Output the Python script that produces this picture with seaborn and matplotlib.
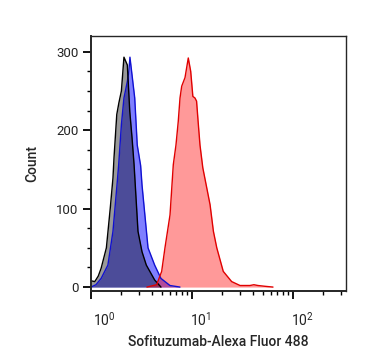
import numpy as np
import pandas as pd
import matplotlib
matplotlib.use("Agg")
import matplotlib.pyplot as plt
import matplotlib.transforms as mtransforms
import seaborn as sns
from matplotlib.ticker import LogLocator, MultipleLocator, FixedLocator

# ---- data (fluorescence intensity, count) ----
gray_x = [1.0, 1.09, 1.18, 1.26, 1.42, 1.55, 1.65, 1.69, 1.80, 1.89, 2.0, 2.12, 2.29, 2.42, 2.55, 2.67, 2.92, 3.2, 3.53, 4.27, 4.93]
gray_y = [8, 7, 14, 24, 50, 100, 139, 165, 220, 235, 250, 293, 283, 224, 190, 156, 71, 45, 28, 9, 0]

blue_x = [1.0, 1.12, 1.26, 1.47, 1.65, 1.82, 1.88, 2.0, 2.12, 2.29, 2.37, 2.43, 2.55, 2.71, 2.87, 3.1, 3.2, 3.67, 4.27, 4.93, 6.05, 7.6]
blue_y = [0, 3, 11, 28, 71, 134, 156, 207, 241, 262, 275, 293, 270, 241, 181, 155, 130, 50, 28, 11, 2, 0]

red_x = [3.58, 4.47, 5.01, 5.40, 6.06, 6.53, 6.94, 7.31, 7.61, 7.91, 8.53, 9.19, 9.71, 10.2, 10.7, 11.1, 11.5, 12.0, 12.8, 15.1, 16.3, 17.6, 20.4, 24.7, 29.9, 37.5, 41.0, 45.0, 52.8, 63.4]
red_y = [0, 3, 20, 50, 92, 156, 181, 211, 241, 256, 267, 292, 275, 243, 241, 237, 211, 181, 152, 105, 71, 50, 20, 7, 2, 2, 3, 2, 1, 0]

x_label = "Sofituzumab-Alexa Fluor 488"
y_label = "Count"
y_ticks = [0, 100, 200, 300]
x_ticks = [1, 10, 100]
x_tick_labels = [r"$10^{0}$", r"$10^{1}$", r"$10^{2}$"]

sns.set_style("ticks")
plt.rcParams["font.family"] = ["Roboto", "DejaVu Sans"]
plt.rcParams["mathtext.fontset"] = "custom"
plt.rcParams["mathtext.rm"] = "Roboto"
plt.rcParams["mathtext.it"] = "Roboto"
plt.rcParams["mathtext.default"] = "regular"

fig = plt.figure(figsize=(3.67, 3.64), dpi=100)
ax = fig.add_axes([91/367, 1-291/364, (346-91)/367, (291-36)/364])

series = [
    (blue_x, blue_y, (0, 0, 1, 0.5), "#1010d0"),
    (gray_x, gray_y, (0, 0, 0, 0.4), "#000000"),
    (red_x, red_y, (1, 0, 0, 0.4), "#e00000"),
]
for xs, ys, fc, lc in series:
    df = pd.DataFrame({"x": xs, "y": ys})
    ax.fill_between(df["x"], 0, df["y"], color=fc, linewidth=0)
    sns.lineplot(data=df, x="x", y="y", ax=ax, color=lc, linewidth=1.0,
                 sort=False, estimator=None)

ax.set_xscale("log")
ax.set_xlim(1, 335)
ax.set_ylim(-5, 320)
ax.yaxis.set_major_locator(FixedLocator(y_ticks))
ax.yaxis.set_minor_locator(MultipleLocator(25))
ax.xaxis.set_major_locator(FixedLocator(x_ticks))
ax.set_xticklabels(x_tick_labels)
ax.xaxis.set_minor_locator(LogLocator(base=10, subs=np.arange(2, 10), numticks=20))

for s in ["left", "bottom"]:
    ax.spines[s].set_linewidth(1.4)
for s in ["top", "right"]:
    ax.spines[s].set_linewidth(1.0)
    ax.spines[s].set_visible(True)

ax.tick_params(axis="both", which="major", length=5.5, width=1.3, labelsize=9.5, color="black", labelcolor="#222222")
ax.tick_params(axis="y", which="major", pad=3.5)
ax.tick_params(axis="x", which="major", pad=8.5, labelsize=10)
ax.tick_params(axis="both", which="minor", length=3, width=1.0, color="black")

shifts = [13, 9, 9]
for lab, dx in zip(ax.get_xticklabels(), shifts):
    lab.set_transform(lab.get_transform() + mtransforms.ScaledTranslation(dx / 100, 0, fig.dpi_scale_trans))

ax.set_xlabel(x_label, fontsize=10, fontweight="medium", labelpad=5)
ax.set_ylabel(y_label, fontsize=10, fontweight="medium", labelpad=12)

fig.savefig("out.png", dpi=100)
